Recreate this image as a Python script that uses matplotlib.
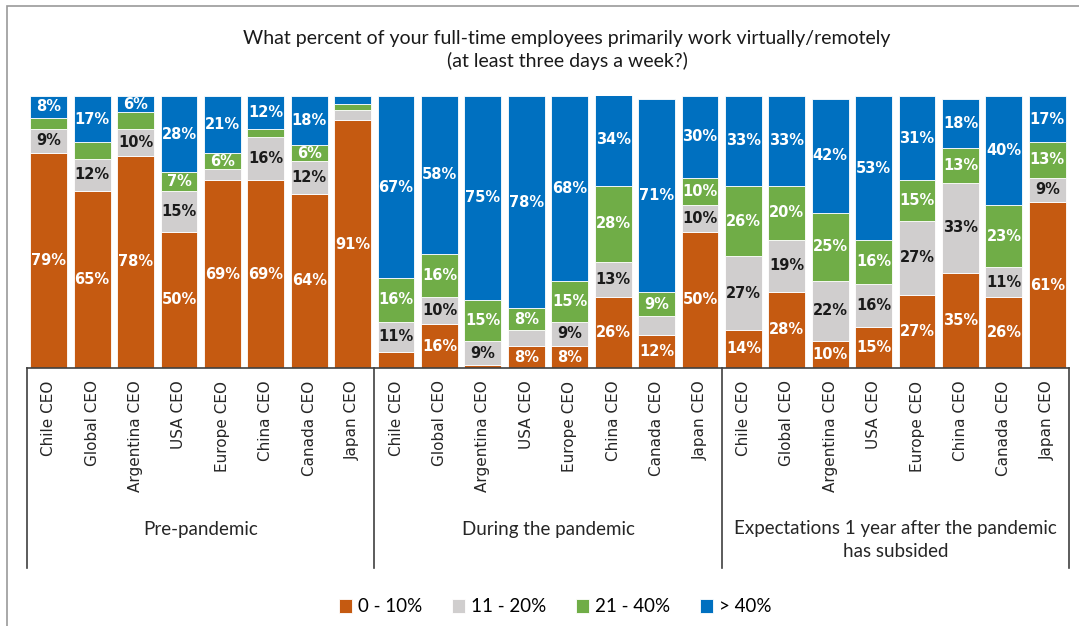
import matplotlib.pyplot as plt
from matplotlib.patches import Rectangle
import numpy as np

regions = ['Chile CEO', 'Global CEO', 'Argentina CEO', 'USA CEO',
           'Europe CEO', 'China CEO', 'Canada CEO', 'Japan CEO']
periods = ['Pre-pandemic', 'During the pandemic',
           'Expectations 1 year after the pandemic\nhas subsided']
series_names = ['0 - 10%', '11 - 20%', '21 - 40%', '> 40%']

# pre-pandemic | during | expectations
low = [79, 65, 78, 50, 69, 69, 64, 91,
       6, 16, 1, 8, 8, 26, 12, 50,
       14, 28, 10, 15, 27, 35, 26, 61]
mid = [9, 12, 10, 15, 4, 16, 12, 4,
       11, 10, 9, 6, 9, 13, 7, 10,
       27, 19, 22, 16, 27, 33, 11, 9]
high = [4, 6, 6, 7, 6, 3, 6, 2,
        16, 16, 15, 8, 15, 28, 9, 10,
        26, 20, 25, 16, 15, 13, 23, 13]
top = [8, 17, 6, 28, 21, 12, 18, 3,
       67, 58, 75, 78, 68, 34, 71, 30,
       33, 33, 42, 53, 31, 18, 40, 17]

# segments whose value is not printed in the original (series, bar)
no_label = {(0, 8), (0, 10),
            (1, 4), (1, 7), (1, 11), (1, 14),
            (2, 0), (2, 1), (2, 2), (2, 5), (2, 7),
            (3, 7)}

colors = ['#C55A11', '#D0CECE', '#70AD47', '#0070C0']
text_colors = ['white', '#1a1a1a', 'white', 'white']

W, H = 1079, 626
fig = plt.figure(figsize=(W / 100, H / 100), dpi=100)
ax = fig.add_axes([27 / W, (H - 368) / H, 1042 / W, 272 / H])

labels = regions * 3
x = np.arange(len(labels))
bottom = np.zeros(len(labels))
for s, vals in enumerate([low, mid, high, top]):
    vals = np.array(vals, dtype=float)
    bars = ax.bar(x, vals, 0.85, bottom=bottom, color=colors[s],
                  edgecolor='white', linewidth=0.6, label=series_names[s])
    for i, v in enumerate(vals):
        if (s, i) in no_label:
            continue
        ax.text(x[i], bottom[i] + v / 2, f'{int(v)}%', ha='center', va='center',
                color=text_colors[s], fontsize=10.5, fontweight='bold')
    bottom += vals

ax.set_xlim(-0.5, len(labels) - 0.5)
ax.set_ylim(0, 100)
ax.set_yticks([])
for sp in ['top', 'right', 'left']:
    ax.spines[sp].set_visible(False)
ax.spines['bottom'].set_color('#404040')
ax.spines['bottom'].set_linewidth(1.2)
ax.set_xticks(x)
ax.set_xticklabels(labels, rotation=90, fontsize=11, color='#262626')
ax.tick_params(axis='x', length=0, pad=9)

trans = ax.get_xaxis_transform()
depth = -200 / 272
for b in [-0.5, 7.5, 15.5, 23.5]:
    ax.plot([b, b], [0, depth], transform=trans, color='#404040',
            linewidth=1.2, clip_on=False)
for g, name in enumerate(periods):
    ax.text(g * 8 + 3.5, -(530 - 368) / 272, name, transform=trans,
            ha='center', va='top' if '\n' in name else 'center',
            fontsize=13.5, family='Lato', color='#262626', linespacing=1.45)
# the two-line label is anchored at its first line
for t in ax.texts[-1:]:
    t.set_y(-(530 - 368 - 10) / 272)

fig.text(567 / W, 1 - 50 / H,
         'What percent of your full-time employees primarily work virtually/remotely\n'
         '(at least three days a week?)',
         ha='center', va='center', fontsize=14, family='Lato',
         color='#1a1a1a', linespacing=1.3)

fig.legend(loc='center', bbox_to_anchor=(555 / W, 1 - 607 / H), ncol=4,
           frameon=False, prop={'family': 'Lato', 'size': 13.5},
           handlelength=0.7, handleheight=0.7, handletextpad=0.3,
           columnspacing=1.6)

fig.patches.append(Rectangle((7 / W, -0.1), 1.2, 1 - 6 / H + 0.1,
                             transform=fig.transFigure, fill=False,
                             edgecolor='#999999', linewidth=1.2))

fig.savefig('out.png', dpi=100)
